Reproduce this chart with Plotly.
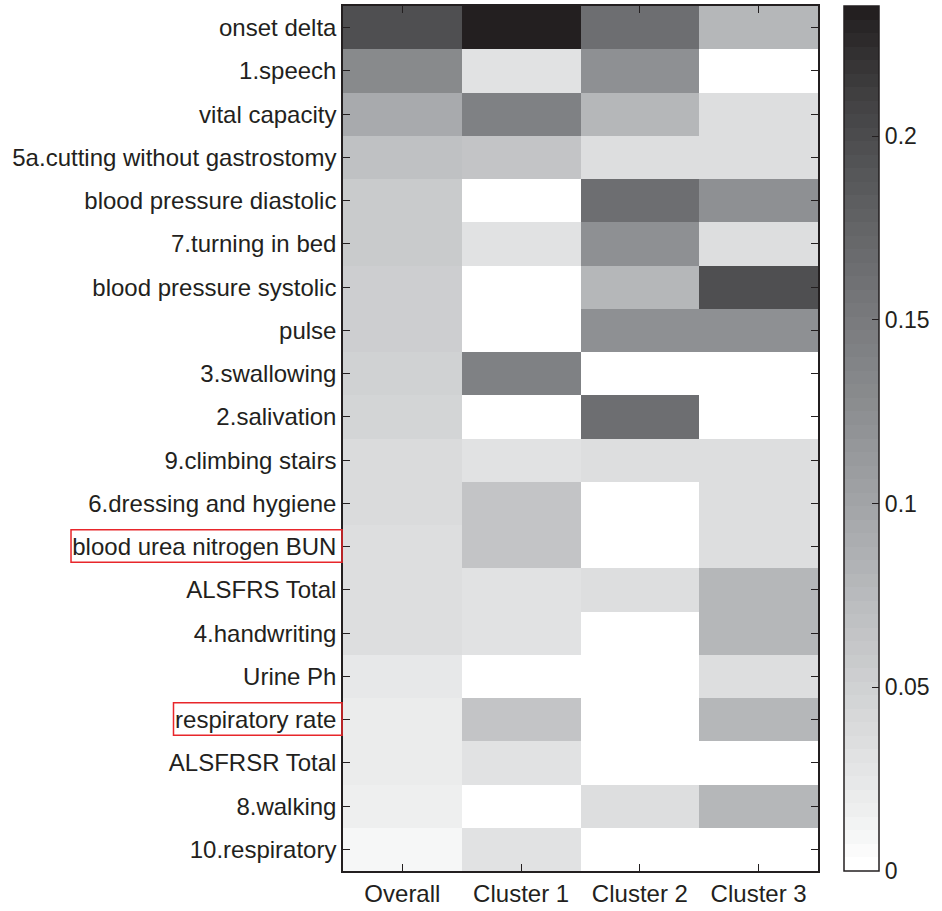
import plotly.graph_objects as go
import numpy as np

features = ["onset delta", "1.speech", "vital capacity", "5a.cutting without gastrostomy",
            "blood pressure diastolic", "7.turning in bed", "blood pressure systolic", "pulse",
            "3.swallowing", "2.salivation", "9.climbing stairs", "6.dressing and hygiene",
            "blood urea nitrogen BUN", "ALSFRS Total", "4.handwriting", "Urine Ph",
            "respiratory rate", "ALSFRSR Total", "8.walking", "10.respiratory"]
groups = ["Overall", "Cluster 1", "Cluster 2", "Cluster 3"]

overall  = [0.198, 0.129, 0.094, 0.068, 0.058, 0.057, 0.054, 0.052, 0.051, 0.047,
            0.039, 0.039, 0.036, 0.036, 0.036, 0.024, 0.021, 0.021, 0.018, 0.008]
cluster1 = [0.235, 0.031, 0.141, 0.066, 0.0, 0.031, 0.0, 0.0, 0.141, 0.0,
            0.031, 0.066, 0.066, 0.031, 0.031, 0.0, 0.066, 0.031, 0.0, 0.031]
cluster2 = [0.165, 0.123, 0.078, 0.035, 0.165, 0.123, 0.078, 0.123, 0.0, 0.165,
            0.035, 0.0, 0.0, 0.035, 0.0, 0.0, 0.0, 0.0, 0.035, 0.0]
cluster3 = [0.078, 0.0, 0.035, 0.035, 0.123, 0.035, 0.198, 0.123, 0.0, 0.0,
            0.035, 0.035, 0.035, 0.078, 0.078, 0.035, 0.078, 0.0, 0.078, 0.0]

cbar_ticks = [0, 0.05, 0.1, 0.15, 0.2]
cbar_ticktext = ["0", "0.05", "0.1", "0.15", "0.2"]
highlighted = ["blood urea nitrogen BUN", "respiratory rate"]

ZMAX = 0.2354
INK = "#231f20"
FONT = "Liberation Sans, Arial"

# K-percentage gray table (print grays), K = 0..100 step 5
ktable = ["#ffffff", "#f1f2f2", "#e6e7e8", "#dcddde", "#d1d3d4", "#c7c8ca", "#bcbec0",
          "#b1b3b6", "#a7a9ac", "#9d9fa2", "#939598", "#898b8d", "#808285", "#77787b",
          "#6d6e71", "#636466", "#58595b", "#4d4d4f", "#414042", "#333132", "#231f20"]

def hex2rgb(h):
    return [int(h[i:i + 2], 16) for i in (1, 3, 5)]

def kcolor(k):
    pos = k * 20
    i = min(int(np.floor(pos)), 19)
    f = pos - i
    a, b = hex2rgb(ktable[i]), hex2rgb(ktable[i + 1])
    c = [round(a[j] + (b[j] - a[j]) * f) for j in range(3)]
    return f"rgb({c[0]},{c[1]},{c[2]})"

N = 64
colorscale = []
for i in range(N):
    c = kcolor(i / (N - 1))
    colorscale.append([i / N, c])
    colorscale.append([(i + 1) / N, c])

z = np.array([overall, cluster1, cluster2, cluster3]).T

W, H = 942, 911
L, R, T, B = 343, W - 825, 4, H - 877
pw = W - L - R
CB_LEFT = 851
CB_THICK = 35

fig = go.Figure(go.Heatmap(
    z=z, x=groups, y=features, zmin=0, zmax=ZMAX, colorscale=colorscale,
    showscale=True, hoverinfo="skip",
    colorbar=dict(
        x=(CB_LEFT - L) / pw, xanchor="left", thickness=CB_THICK, thicknessmode="pixels",
        len=1, lenmode="fraction", y=0.5, yanchor="middle",
        outlinecolor=INK, outlinewidth=1.5,
        ticks="inside", ticklen=7, tickcolor=INK, tickwidth=1,
        tickvals=cbar_ticks, ticktext=cbar_ticktext,
        tickfont=dict(family=FONT, size=23, color=INK),
        ypad=0, xpad=0,
    ),
))

fig.update_xaxes(
    showline=True, linecolor=INK, linewidth=1.5, mirror="ticks",
    ticks="inside", ticklen=7, tickcolor=INK, tickwidth=1,
    tickfont=dict(family=FONT, size=24, color=INK),
    showgrid=False, zeroline=False, ticklabelstandoff=0,
)
fig.update_yaxes(
    showline=True, linecolor=INK, linewidth=1.5, mirror="ticks",
    ticks="inside", ticklen=7, tickcolor=INK, tickwidth=1,
    tickfont=dict(family=FONT, size=24, color=INK),
    autorange="reversed", showgrid=False, zeroline=False, ticklabelstandoff=0,
)

def px2paper(px):
    return (px - L) / pw

# red highlight boxes around selected feature labels
boxes = {"blood urea nitrogen BUN": 67, "respiratory rate": 171}
for name in highlighted:
    idx = features.index(name)
    fig.add_shape(type="rect", xref="paper", yref="y",
                  x0=px2paper(boxes[name]), x1=px2paper(342),
                  y0=idx - 0.39, y1=idx + 0.36,
                  line=dict(color="#e8262b", width=1.5), fillcolor="rgba(0,0,0,0)")

# mirrored colorbar ticks on the left edge (colorbar spans the full plot height)
for v in cbar_ticks[1:]:
    fig.add_shape(type="line", xref="paper", yref="paper",
                  x0=px2paper(CB_LEFT + 1), x1=px2paper(CB_LEFT + 8),
                  y0=v / ZMAX, y1=v / ZMAX,
                  line=dict(color=INK, width=1))

fig.update_layout(
    width=W, height=H, margin=dict(l=L, r=R, t=T, b=B),
    paper_bgcolor="white", plot_bgcolor="white",
    font=dict(family=FONT, color=INK),
)

fig.write_html(
    "out.html", config={"displayModeBar": False},
    post_script=("document.body.style.margin='0px';"
                 "document.body.style.overflow='hidden';"
                 "document.documentElement.style.overflow='hidden';"),
)
